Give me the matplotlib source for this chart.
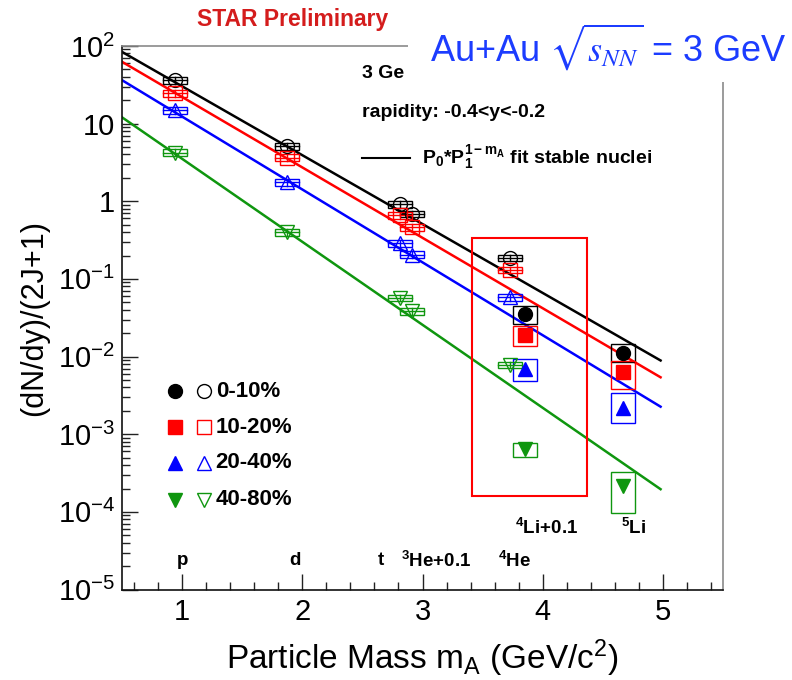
import numpy as np
import matplotlib
matplotlib.use("Agg")
import matplotlib.pyplot as plt
from matplotlib.patches import Rectangle
from matplotlib.ticker import MultipleLocator, LogLocator, NullFormatter

plt.rcParams['font.family'] = ['Liberation Sans', 'DejaVu Sans']
plt.rcParams['mathtext.fontset'] = 'custom'
plt.rcParams['mathtext.rm'] = 'Liberation Sans'
plt.rcParams['mathtext.it'] = 'Liberation Sans:italic'
plt.rcParams['mathtext.bf'] = 'Liberation Sans:bold'

# centrality classes and colours
cent_labels = ['0-10%', '10-20%', '20-40%', '40-80%']
colors = ['black', '#ff0000', '#0000ff', '#0f960f']
markers = ['o', 's', '^', 'v']

# stable nuclei: p, d, t, 3He (+0.1 shift), 4He
mass_stable = [0.938, 1.876, 2.809, 2.909, 3.727]
yield_stable = [
    [36.2, 5.1, 0.91, 0.69, 0.187],
    [24.4, 3.64, 0.656, 0.463, 0.131],
    [14.9, 1.76, 0.288, 0.206, 0.058],
    [4.23, 0.398, 0.0569, 0.0382, 0.0078],
]
sys_stable = 0.10  # relative systematic uncertainty

# unstable nuclei: 4Li (+0.1 shift), 5Li
mass_li = [3.85, 4.67]
yield_li = [
    [0.0353, 0.0111],
    [0.0191, 0.00624],
    [0.0069, 0.0022],
    [6.4e-4, 2.15e-4],
]
li_lo = [
    [0.0262, 0.0084],
    [0.0138, 0.00381],
    [0.0049, 0.00139],
    [5.09e-4, 9.6e-5],
]
li_hi = [
    [0.0443, 0.0145],
    [0.0244, 0.00883],
    [0.0093, 0.00338],
    [7.66e-4, 3.27e-4],
]

# fit P0 * P1^(1-mA) to stable nuclei
fit_p0 = [30.2, 22.0, 12.3, 3.52]
fit_p1 = [7.71, 8.07, 8.68, 11.72]

fig = plt.figure(figsize=(7.92, 6.8), dpi=100)
ax = fig.add_axes([0.154, 0.133, 0.759, 0.7995])
ax.set_xlim(0.5, 5.5)
ax.set_ylim(1e-5, 1e2)
ax.set_yscale('log')

box_dx = 0.1
mfit = np.linspace(0.5, 4.98, 50)
for i in range(4):
    c = colors[i]
    ax.plot(mfit, fit_p0[i] * fit_p1[i] ** (1 - mfit), color=c, lw=1.8, zorder=2)

    # stable nuclei: open markers with systematic boxes
    for m, y in zip(mass_stable, yield_stable[i]):
        lo, hi = y * (1 - sys_stable), y * (1 + sys_stable)
        ax.add_patch(Rectangle((m - box_dx, lo), 2 * box_dx, hi - lo,
                               fill=False, ec=c, lw=1.0, zorder=3))
        ax.plot([m - box_dx, m + box_dx], [y, y], color=c, lw=1.0, zorder=3)
        ax.plot([m, m], [lo, hi], color=c, lw=1.0, zorder=3)
    ax.plot(mass_stable, yield_stable[i], ls='none', marker=markers[i],
            mfc='none', mec=c, mew=1.0, ms=10, zorder=4)

    # lithium: filled markers with boxes
    for m, lo, hi in zip(mass_li, li_lo[i], li_hi[i]):
        ax.add_patch(Rectangle((m - box_dx, lo), 2 * box_dx, hi - lo,
                               fill=False, ec=c, lw=1.0, zorder=3))
    ax.plot(mass_li, yield_li[i], ls='none', marker=markers[i],
            color=c, ms=10, zorder=4)

# region highlighting 4Li
ax.add_patch(Rectangle((3.414, 1.6e-4), 0.95, 0.334 - 1.6e-4,
                       fill=False, ec='red', lw=1.5, zorder=5))

# axes styling
ax.set_yticks([1e-5, 1e-4, 1e-3, 1e-2, 1e-1, 1, 10, 100],
              ['10$^{-5}$', '10$^{-4}$', '10$^{-3}$', '10$^{-2}$',
               '10$^{-1}$', '1', '10', '10$^{2}$'])
ax.yaxis.set_minor_locator(LogLocator(base=10, subs=np.arange(2, 10), numticks=20))
ax.yaxis.set_minor_formatter(NullFormatter())
ax.set_xticks([1, 2, 3, 4, 5])
ax.xaxis.set_minor_locator(MultipleLocator(0.2))
ax.tick_params(which='both', direction='in', top=False, right=False,
               labelsize=21, color='#222222')
ax.tick_params(axis='x', which='major', length=11.5, width=1.0, pad=6)
ax.tick_params(axis='x', which='minor', length=6, width=1.0)
ax.tick_params(axis='y', which='major', length=11.5, width=1.0, pad=5)
ax.tick_params(axis='y', which='minor', length=6, width=1.0)
for s in ['left', 'bottom']:
    ax.spines[s].set_color('#111111')
    ax.spines[s].set_linewidth(1.2)
for s in ['top', 'right']:
    ax.spines[s].set_color('#8a8a8a')
    ax.spines[s].set_linewidth(1.2)

ax.set_xlabel(r'Particle Mass m$_{\mathrm{A}}$ (GeV/c$^{2}$)', fontsize=24, labelpad=8)
ax.set_ylabel('(dN/dy)/(2J+1)', fontsize=22, labelpad=6)

# text annotations
bold = dict(fontweight='bold', color='black')
ax.text(0.399, 0.950, '3 Ge', transform=ax.transAxes, fontsize=14,
        va='center', **bold)
ax.text(0.399, 0.878, 'rapidity: -0.4<y<-0.2', transform=ax.transAxes,
        fontsize=14, va='center', **bold)
ax.plot([0.399, 0.479], [0.794, 0.794], color='black', lw=1.5,
        transform=ax.transAxes)
ax.text(0.499, 0.794,
        r'P$_{\mathbf{0}}$*P$_{\mathbf{1}}^{\mathbf{1-m}_{\mathbf{A}}}$ fit stable nuclei',
        transform=ax.transAxes, fontsize=14, va='center', **bold)

# centrality legend
leg_y = [0.365, 0.299, 0.233, 0.165]
for i in range(4):
    ax.plot(0.088, leg_y[i], marker=markers[i], color=colors[i], ms=10,
            transform=ax.transAxes)
    ax.plot(0.136, leg_y[i], marker=markers[i], mfc='none', mec=colors[i],
            mew=1.0, ms=10, transform=ax.transAxes)
    ax.text(0.156, leg_y[i], cent_labels[i], transform=ax.transAxes,
            fontsize=16, va='center', **bold)

# particle labels
lab_tr = ax.get_xaxis_transform()
particles = ['p', 'd', 't', r'$^{\mathbf{3}}$He+0.1', r'$^{\mathbf{4}}$He',
             r'$^{\mathbf{4}}$Li+0.1', r'$^{\mathbf{5}}$Li']
part_x = [1.0, 1.94, 2.65, 2.82, 3.63, 3.77, 4.65]
part_y = [0.053, 0.053, 0.053, 0.053, 0.053, 0.114, 0.114]
part_ha = ['center', 'center', 'center', 'left', 'left', 'left', 'left']
for lab, px, py, ha in zip(particles, part_x, part_y, part_ha):
    ax.text(px, py, lab, transform=lab_tr, fontsize=13.5, ha=ha,
            va='center', **bold)

fig.text(0.369, 0.971, 'STAR Preliminary', color='#d41c1c', fontsize=16.5,
         fontweight='bold', ha='center', va='center')

# white header panel with collision system
fig.add_artist(Rectangle((0.515, 0.879), 0.485, 0.121, transform=fig.transFigure,
                         fc='white', ec='none', zorder=5))
fig.text(0.543, 0.931, r'Au+Au $\sqrt{s_{NN}}$ = 3 GeV', color='#1c3cff',
         fontsize=26, ha='left', va='center', math_fontfamily='stix', zorder=6)

fig.savefig('out.png', dpi=100)
